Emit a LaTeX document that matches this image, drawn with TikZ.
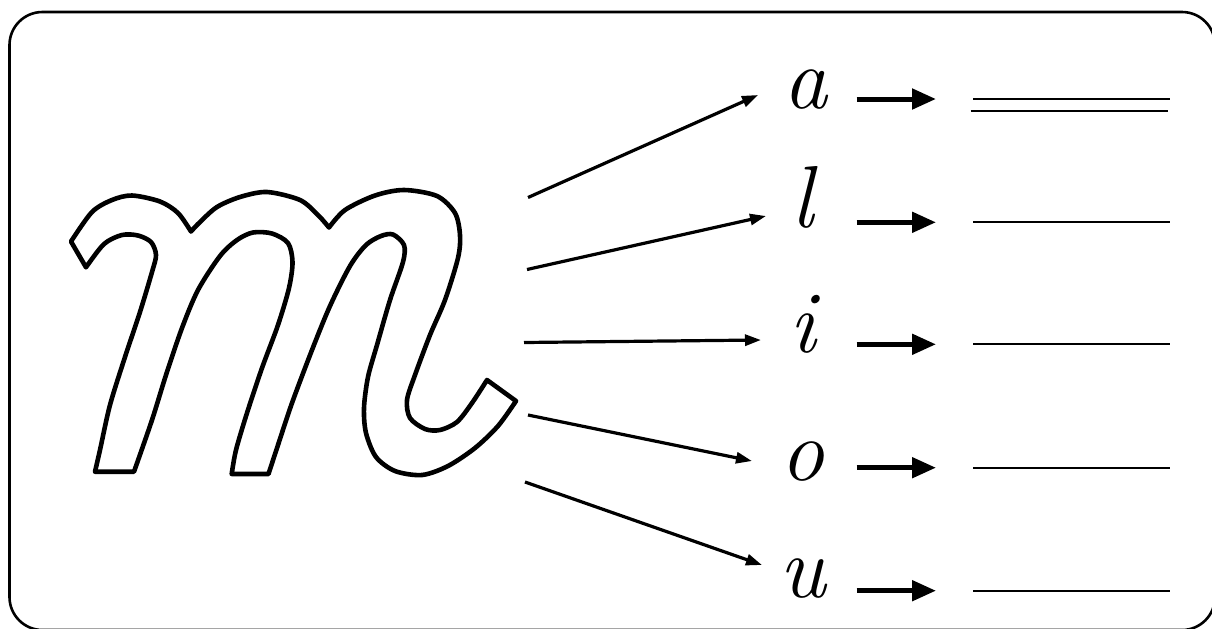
\documentclass[tikz,border=0pt]{standalone}
\usetikzlibrary{arrows.meta}
\begin{document}
\begin{tikzpicture}[x=0.5pt,y=-0.5pt,
  frame/.style={line width=1.3pt, rounded corners=16.5pt},
  outline/.style={line width=2.3pt, line join=round},
  diag/.style={line width=1.6pt, -{Triangle[length=8pt,width=5.5pt]}},
  bigarrow/.style={line width=2.5pt, -{Triangle[length=12pt,width=10pt]}},
  writeline/.style={line width=1pt},
  letter/.style={font=\fontsize{44}{50}\selectfont\itshape, inner sep=0pt, anchor=base}]
\useasboundingbox (0,0) rectangle (1212,628);
\clip (0,0) rectangle (1212,628);
% frame
\draw[frame] (9.5,12) rectangle (1215,630);
% outline letter m
\draw[outline]
  plot[smooth] coordinates {(71,241.5) (92,212) (112,200) (132,195.5) (160,201.5) (178,213) (191,231.5)}
  -- plot[smooth] coordinates {(191,231.5) (200,222) (217,207) (240,197) (267,192) (300,200) (318,215) (329,227.5)}
  -- plot[smooth] coordinates {(329,227.5) (345,210) (375,195.5) (404,190) (437,196) (455,213) (460,235) (458,258) (445,300) (430,335) (415,375) (407,400) (410,418) (425,429) (440,430) (457,422) (472,403) (487,380)}
  -- (516,401)
  -- plot[smooth] coordinates {(516,401) (498,426) (475,448) (448,466) (422,475) (395,471) (376,457) (366,433) (364,408) (368,377) (377,345) (390,300) (403,262) (404,245) (393,234.5) (381,236) (366,245) (350,266) (330,306) (312,350) (292,403) (278,445) (268.5,474)}
  -- (231.7,474)
  -- plot[smooth] coordinates {(231.7,474) (236,450) (247,413) (262,368) (278,325) (289,288) (292.5,262) (288,243) (272,233.5) (253,232.5) (237,240) (220,256) (198,290) (182,328) (166,375) (152,420) (134,471.7)}
  -- (95,471.7)
  -- plot[smooth] coordinates {(95,471.7) (100,450) (110,405) (125,357) (140,312) (152,272) (156,255) (151,242) (138,235.5) (122,235) (104,244) (86,267.3)}
  -- cycle;
% letters
\node[letter] (la) at (805,108) {a};
\node[letter] (ll) at (802,227) {l};
\node[letter] (li) at (803,352) {i};
\node[letter] (lo) at (802,480) {o};
\node[letter] (lu) at (803,597) {u};
% diagonal arrows
\coordinate (s1) at (528,197.5); \coordinate (e1) at (758,95);
\coordinate (s2) at (527,269.5); \coordinate (e2) at (766,216);
\coordinate (s3) at (524,342.5); \coordinate (e3) at (761,340);
\coordinate (s4) at (528,415);   \coordinate (e4) at (752,461);
\coordinate (s5) at (525,482);   \coordinate (e5) at (762,565);
\foreach \i in {1,...,5} {\draw[diag] (s\i) -- (e\i);}
% big arrows and writing lines
\foreach \n/\y in {1/99,2/222.3,3/344.3,4/467.7,5/590.7} {
  \coordinate (b\n) at (856.7,\y);
  \coordinate (c\n) at (936,\y);
  \draw[bigarrow] (b\n) -- (c\n);
}
\coordinate (w1a) at (973.3,98.7);  \coordinate (w1b) at (1170,98.7);
\coordinate (w0a) at (970.7,110.7); \coordinate (w0b) at (1167.7,110.7);
\draw[writeline] (w1a) -- (w1b);
\draw[writeline] (w0a) -- (w0b);
\foreach \n/\y in {2/222.3,3/344.3,4/467.7,5/590.7} {
  \coordinate (wa\n) at (973.3,\y);
  \coordinate (wb\n) at (1170,\y);
  \draw[writeline] (wa\n) -- (wb\n);
}
\end{tikzpicture}
\end{document}
